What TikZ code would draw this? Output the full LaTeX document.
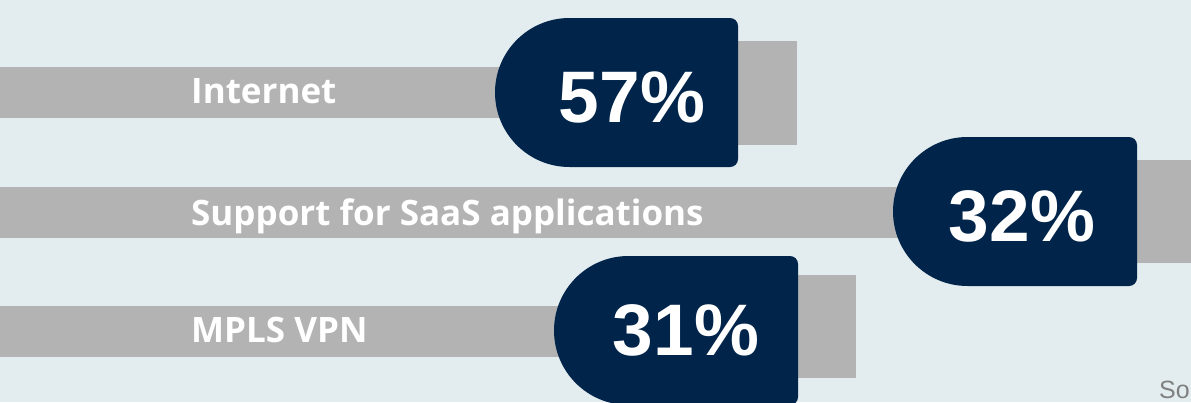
\documentclass[tikz,border=0pt]{standalone}
\usepackage{fontspec}
\setmainfont{Liberation Sans}
\newfontfamily\labelfont{Open Sans}
\definecolor{bgblue}{HTML}{E3EDEF}
\definecolor{bargray}{HTML}{B3B3B3}
\definecolor{navy}{HTML}{00244A}
\definecolor{srcgray}{HTML}{808080}
\tikzset{
  bar/.style={fill=bargray},
  plugend/.style={fill=bargray},
  tagshape/.style={fill=navy},
  pct/.style={text=white, anchor=base, inner sep=0pt,
    font=\fontsize{73}{73}\selectfont\bfseries},
  lbl/.style={text=white, anchor=base west, inner sep=0pt,
    font=\labelfont\bfseries\fontsize{35}{35}\selectfont},
}
% left side is a half circle, right side has small round corners (y points down)
\newcommand{\tagpath}[3]{% left x, top y, right x
  (#1+74.5,#2) -- (#3-8,#2) arc[start angle=270, end angle=360, radius=8]
  -- (#3,#2+141) arc[start angle=0, end angle=90, radius=8]
  -- (#1+74.5,#2+149) arc[start angle=90, end angle=270, radius=74.5] -- cycle}
\begin{document}
\begin{tikzpicture}[x=1pt, y=-1pt]
  \fill[bgblue] (0,0) rectangle (1191,402);
  \useasboundingbox (0,0) rectangle (1191,402);
  \begin{scope}
    \clip (0,0) rectangle (1191,402);
    % Internet
    \fill[bar] (0,67) rectangle (560,118);
    \fill[plugend] (730,41) rectangle (797,145);
    \fill[tagshape] \tagpath{495}{18}{738};
    % SaaS
    \fill[bar] (0,187) rectangle (960,238);
    \fill[plugend] (1130,160) rectangle (1200,263);
    \fill[tagshape] \tagpath{893}{137}{1137};
    % MPLS VPN
    \fill[bar] (0,306) rectangle (620,357);
    \fill[plugend] (790,275) rectangle (856,378);
    \fill[tagshape] \tagpath{554}{256}{798};
  \end{scope}
  \node[lbl] (internet) at (191,103) {Internet};
  \node[lbl] (saas) at (191,225) {Support for SaaS applications};
  \node[lbl] (mpls) at (191,342) {MPLS VPN};
  \node[pct] (p57) at (632,122) {57\%};
  \node[pct] (p32) at (1022,241) {32\%};
  \node[pct] (p31) at (686,355) {31\%};
  \node[text=srcgray, anchor=base west, inner sep=0pt,
    font=\fontsize{25}{25}\selectfont] (source) at (1159,398) {So};
\end{tikzpicture}
\end{document}
